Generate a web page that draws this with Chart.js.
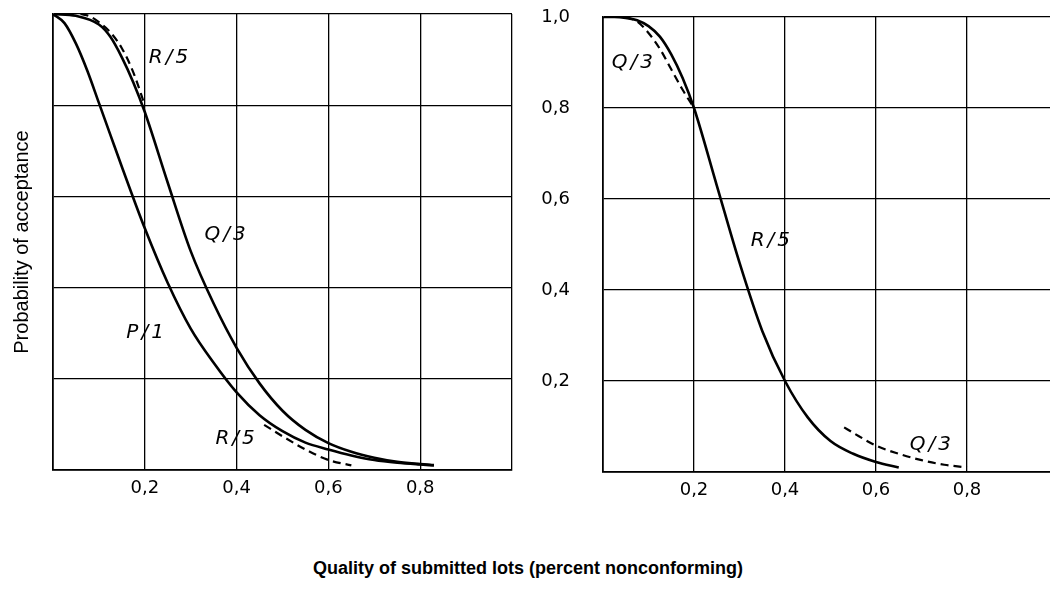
<!DOCTYPE html>
<html>
<head>
<meta charset="utf-8">
<script src="https://cdn.jsdelivr.net/npm/chart.js@4.4.1/dist/chart.umd.min.js"></script>
<style>
  html, body { margin: 0; padding: 0; background: #fff; overflow: hidden; }
  body { width: 1050px; height: 592px; position: relative; }
  #leftChart { position: absolute; left: 0; top: 0; }
  #rightChart { position: absolute; left: 520px; top: 0; }
  #xTitle {
    position: absolute; left: 0; top: 557px; width: 1056px;
    text-align: center; color: #000;
    font: bold 18px "Liberation Sans", Arial, sans-serif; line-height: 22px;
  }
</style>
</head>
<body>
<canvas id="leftChart" width="530" height="520"></canvas>
<canvas id="rightChart" width="560" height="520"></canvas>
<div id="xTitle">Quality of submitted lots (percent nonconforming)</div>
<script>
// left panel curves
const p1X = [0, 0.025, 0.05, 0.075, 0.1, 0.125, 0.15, 0.2, 0.25, 0.3, 0.35, 0.4, 0.45, 0.5, 0.55, 0.6, 0.65, 0.7, 0.75, 0.8, 0.83];
const p1Y = [1.0, 0.98, 0.935, 0.875, 0.805, 0.735, 0.665, 0.53, 0.41, 0.31, 0.235, 0.17, 0.12, 0.085, 0.06, 0.045, 0.032, 0.022, 0.016, 0.012, 0.01];
const q3X = [0, 0.05, 0.1, 0.125, 0.15, 0.175, 0.2, 0.25, 0.3, 0.35, 0.4, 0.45, 0.5, 0.55, 0.6, 0.65, 0.7, 0.75, 0.8, 0.83];
const q3Y = [1.0, 0.996, 0.977, 0.95, 0.905, 0.85, 0.785, 0.63, 0.48, 0.365, 0.268, 0.19, 0.13, 0.088, 0.059, 0.04, 0.027, 0.018, 0.013, 0.011];
const r5TopX = [0.06, 0.08, 0.1, 0.125, 0.15, 0.175, 0.2];
const r5TopY = [1.0, 0.995, 0.982, 0.96, 0.925, 0.872, 0.8];
const r5TailX = [0.46, 0.5, 0.55, 0.6, 0.65];
const r5TailY = [0.099, 0.074, 0.045, 0.022, 0.01];

// right panel curves
const r5X = [0, 0.025, 0.05, 0.075, 0.1, 0.125, 0.15, 0.175, 0.2, 0.25, 0.3, 0.35, 0.4, 0.45, 0.5, 0.55, 0.6, 0.65];
const r5Y = [1.0, 1.0, 0.998, 0.993, 0.98, 0.957, 0.918, 0.866, 0.8, 0.63, 0.46, 0.31, 0.2, 0.12, 0.068, 0.04, 0.022, 0.01];
const q3TopX = [0.05, 0.075, 0.1, 0.125, 0.15, 0.175, 0.2];
const q3TopY = [1.0, 0.99, 0.965, 0.93, 0.885, 0.84, 0.8];
const q3TailX = [0.53, 0.55, 0.6, 0.65, 0.7, 0.75, 0.8];
const q3TailY = [0.098, 0.086, 0.058, 0.04, 0.026, 0.016, 0.01];

// curve labels (text and where they sit, in data units)
const leftLabels = ['R/5', 'Q/3', 'P/1', 'R/5'];
const leftLabelX = [0.255, 0.378, 0.204, 0.40];
const leftLabelY = [0.905, 0.515, 0.30, 0.068];
const rightLabels = ['Q/3', 'R/5', 'Q/3'];
const rightLabelX = [0.068, 0.371, 0.723];
const rightLabelY = [0.90, 0.508, 0.059];

const tickStep = 0.2;
const yTitle = 'Probability of acceptance';

function fmt(v) {
  return v.toFixed(1).replace('.', ',');
}

function lineSet(xs, ys, dashed) {
  return {
    data: xs.map((x, i) => ({ x: x, y: ys[i] })),
    borderColor: '#000',
    borderWidth: dashed ? 2.2 : 2.6,
    borderDash: dashed ? [8, 5] : [],
    pointRadius: 0,
    cubicInterpolationMode: 'monotone',
    fill: false
  };
}

const curveLabels = {
  id: 'curveLabels',
  afterDatasetsDraw(chart, args, opts) {
    const { ctx, scales: { x, y } } = chart;
    ctx.save();
    ctx.font = 'italic 20px "DejaVu Sans"';
    ctx.fillStyle = '#000';
    ctx.textAlign = 'center';
    ctx.textBaseline = 'middle';
    ctx.letterSpacing = '3px';
    opts.text.forEach((t, i) => {
      ctx.fillText(t, x.getPixelForValue(opts.x[i]), y.getPixelForValue(opts.y[i]));
    });
    ctx.restore();
  }
};

function panelOptions(opt) {
  return {
    responsive: false,
    animation: false,
    layout: { padding: opt.padding },
    plugins: {
      legend: { display: false },
      tooltip: { enabled: false },
      curveLabels: opt.labels
    },
    scales: {
      x: {
        type: 'linear',
        min: 0,
        max: 1,
        ticks: {
          stepSize: tickStep,
          color: '#000',
          font: { family: 'DejaVu Sans', size: 18 },
          padding: 8,
          maxRotation: 0,
          autoSkip: false,
          callback: v => (v > 0.01 && v < 0.99) ? fmt(v) : ''
        },
        grid: { color: '#000', lineWidth: 1.3, drawTicks: false },
        border: { color: '#000', width: 1.7 },
        afterFit: s => { s.height = opt.xHeight; s.paddingLeft = 0; s.paddingRight = 0; }
      },
      y: {
        type: 'linear',
        min: 0,
        max: 1,
        ticks: {
          display: opt.showY,
          stepSize: tickStep,
          color: '#000',
          font: { family: 'DejaVu Sans', size: 18 },
          padding: 33,
          callback: v => v > 0.01 ? fmt(v) : ''
        },
        title: {
          display: !opt.showY,
          text: yTitle,
          color: '#000',
          font: { family: 'Liberation Sans', size: 20 },
          padding: { top: 10, bottom: 0 }
        },
        grid: { color: '#000', lineWidth: 1.3, drawTicks: false },
        border: { color: '#000', width: 1.7 },
        afterFit: s => { s.width = opt.yWidth; s.paddingTop = 0; s.paddingBottom = 0; }
      }
    }
  };
}

new Chart(document.getElementById('leftChart'), {
  type: 'line',
  data: {
    datasets: [
      lineSet(p1X, p1Y, false),
      lineSet(q3X, q3Y, false),
      lineSet(r5TopX, r5TopY, true),
      lineSet(r5TailX, r5TailY, true)
    ]
  },
  options: panelOptions({
    padding: { top: 14, right: 18, left: 0, bottom: 0 },
    xHeight: 50,
    yWidth: 53,
    showY: false,
    labels: { text: leftLabels, x: leftLabelX, y: leftLabelY }
  }),
  plugins: [curveLabels]
});

new Chart(document.getElementById('rightChart'), {
  type: 'line',
  data: {
    datasets: [
      lineSet(r5X, r5Y, false),
      lineSet(q3TopX, q3TopY, true),
      lineSet(q3TailX, q3TailY, true)
    ]
  },
  options: panelOptions({
    padding: { top: 17, right: 22, left: 0, bottom: 0 },
    xHeight: 48,
    yWidth: 83,
    showY: true,
    labels: { text: rightLabels, x: rightLabelX, y: rightLabelY }
  }),
  plugins: [curveLabels]
});
</script>
</body>
</html>
